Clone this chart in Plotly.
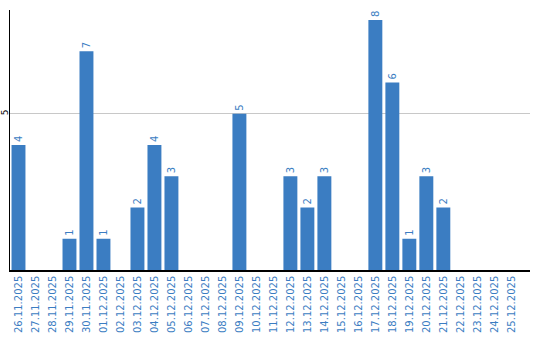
import plotly.graph_objects as go

dates = ["26.11.2025", "27.11.2025", "28.11.2025", "29.11.2025", "30.11.2025",
         "01.12.2025", "02.12.2025", "03.12.2025", "04.12.2025", "05.12.2025",
         "06.12.2025", "07.12.2025", "08.12.2025", "09.12.2025", "10.12.2025",
         "11.12.2025", "12.12.2025", "13.12.2025", "14.12.2025", "15.12.2025",
         "16.12.2025", "17.12.2025", "18.12.2025", "19.12.2025", "20.12.2025",
         "21.12.2025", "22.12.2025", "23.12.2025", "24.12.2025", "25.12.2025"]
counts = [4, 0, 0, 1, 7, 1, 0, 2, 4, 3, 0, 0, 0, 5, 0, 0, 3, 2, 3, 0, 0, 8, 6, 1, 3, 2, 0, 0, 0, 0]
y_ticks = [5]

blue = "#3b7dc2"
labels = [str(v) if v > 0 else "" for v in counts]

fig = go.Figure(go.Bar(
    x=dates, y=counts, marker=dict(color=blue, line=dict(width=0)),
    text=labels, textposition="outside", textangle=-90,
    textfont=dict(family="DejaVu Sans", size=10, color=blue),
    cliponaxis=False,
))
fig.update_layout(
    width=540, height=340,
    margin=dict(l=10, r=10, t=10, b=70),
    paper_bgcolor="white", plot_bgcolor="white",
    bargap=0.18, showlegend=False,
    font=dict(family="DejaVu Sans", size=10, color=blue),
    xaxis=dict(type="category", range=[-0.5, 30.1], tickangle=-90, showgrid=False,
               showline=True, linecolor="black", linewidth=1.5, ticks="",
               automargin=False,
               tickfont=dict(family="DejaVu Sans", size=10, color=blue)),
    yaxis=dict(range=[0, 8.32], tickvals=y_ticks, tickangle=-90, showgrid=True,
               gridcolor="#c8c8c8", gridwidth=1, showline=True, linecolor="black",
               linewidth=1, zeroline=False, ticks="", automargin=False,
               ticklabelstandoff=-3,
               tickfont=dict(family="DejaVu Sans", size=9, color="black")),
)
fig.write_html("out.html")
